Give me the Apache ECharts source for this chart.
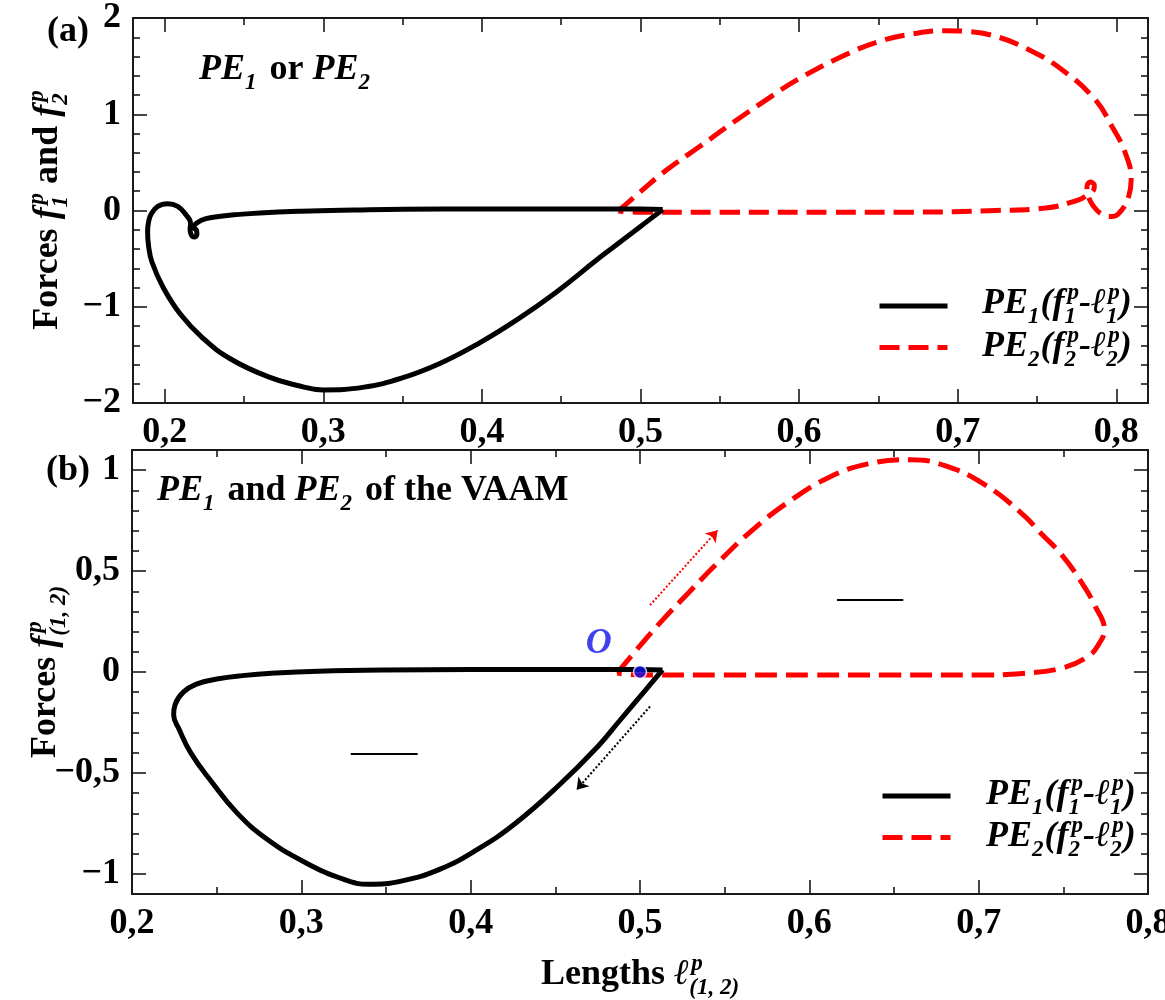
<!DOCTYPE html>
<html>
<head>
<meta charset="utf-8">
<script src="https://cdn.jsdelivr.net/npm/echarts@6/dist/echarts.min.js"></script>
<style>
  html, body { margin: 0; padding: 0; background: #fff; }
  #chart { width: 1165px; height: 1000px; }
</style>
</head>
<body>
<div id="chart"></div>
<script>
// ---- Panel (a): PE1 / PE2 force–length loops ----
const pe1aLen = [0.514, 0.500, 0.4826, 0.4725, 0.446, 0.422, 0.398, 0.3738, 0.3497, 0.3257, 0.300, 0.283, 0.2655, 0.2416, 0.2240, 0.2098, 0.1992, 0.1920, 0.1898, 0.1892, 0.1898, 0.1914, 0.1956, 0.2019, 0.2082, 0.2134, 0.2163, 0.2160, 0.2168, 0.2186, 0.2203, 0.2200, 0.2182, 0.2207, 0.2260, 0.2340, 0.2438, 0.2600, 0.2857, 0.3200, 0.3500, 0.4000, 0.4500, 0.5000, 0.5140];
const pe1aForce = [0.010, -0.166, -0.385, -0.512, -0.859, -1.136, -1.380, -1.587, -1.740, -1.835, -1.864, -1.815, -1.729, -1.543, -1.325, -1.075, -0.805, -0.538, -0.367, -0.221, -0.120, -0.040, 0.042, 0.070, 0.042, -0.045, -0.130, -0.200, -0.255, -0.275, -0.250, -0.205, -0.175, -0.125, -0.085, -0.062, -0.045, -0.025, -0.008, 0.005, 0.013, 0.015, 0.015, 0.015, 0.010];
const pe2aLen = [0.4860, 0.4996, 0.5164, 0.5373, 0.5580, 0.5793, 0.6000, 0.6296, 0.6505, 0.6714, 0.6925, 0.7050, 0.7239, 0.7449, 0.7658, 0.7868, 0.7973, 0.8057, 0.8094, 0.8078, 0.8035, 0.7973, 0.7910, 0.7850, 0.7822, 0.7815, 0.7835, 0.7862, 0.7855, 0.7815, 0.7763, 0.7553, 0.7239, 0.6713, 0.6200, 0.5600, 0.5000, 0.4860];
const pe2aForce = [-0.005, 0.190, 0.420, 0.665, 0.910, 1.150, 1.370, 1.620, 1.757, 1.834, 1.868, 1.861, 1.810, 1.670, 1.463, 1.150, 0.873, 0.597, 0.319, 0.146, 0.007, -0.062, -0.040, 0.060, 0.160, 0.245, 0.295, 0.260, 0.205, 0.160, 0.111, 0.025, 0.000, -0.017, -0.017, -0.017, -0.017, -0.005];

// ---- Panel (b): PE1 and PE2 of the VAAM ----
const pe1bLen = [0.5133, 0.5035, 0.4877, 0.4751, 0.4523, 0.4267, 0.4040, 0.3816, 0.3590, 0.3398, 0.3251, 0.3025, 0.2800, 0.2620, 0.2461, 0.2348, 0.2280, 0.2246, 0.2255, 0.2303, 0.2380, 0.2500, 0.2650, 0.2850, 0.3100, 0.3500, 0.4000, 0.4500, 0.5000, 0.5133];
const pe1bForce = [0.010, -0.087, -0.244, -0.369, -0.560, -0.748, -0.879, -0.978, -1.036, -1.052, -1.028, -0.945, -0.830, -0.698, -0.534, -0.402, -0.287, -0.212, -0.160, -0.100, -0.060, -0.035, -0.018, -0.005, 0.004, 0.010, 0.012, 0.012, 0.012, 0.010];
const pe2bLen = [0.4865, 0.4979, 0.5133, 0.5290, 0.5434, 0.5662, 0.5890, 0.6118, 0.6346, 0.6596, 0.6800, 0.7029, 0.7257, 0.7370, 0.7485, 0.7599, 0.7690, 0.7742, 0.7712, 0.7645, 0.7485, 0.7257, 0.7000, 0.6500, 0.6000, 0.5500, 0.5000, 0.4865];
const pe2bForce = [-0.005, 0.109, 0.257, 0.395, 0.520, 0.702, 0.850, 0.965, 1.031, 1.052, 1.023, 0.932, 0.784, 0.685, 0.586, 0.455, 0.323, 0.208, 0.142, 0.076, 0.018, -0.007, -0.015, -0.015, -0.015, -0.015, -0.015, -0.005];

// Operating point O and direction arrows in panel (b)
const originPoint = [0.5, 0];
const arrowPE2 = [[0.5059, 0.331], [0.5458, 0.702]];
const arrowPE1 = [[0.5059, -0.171], [0.4626, -0.583]];
const markPE1 = [[0.3292, -0.405], [0.3687, -0.405]];
const markPE2 = [[0.6163, 0.356], [0.6555, 0.356]];

// Tick values
const lenTicks = [0.2, 0.3, 0.4, 0.5, 0.6, 0.7, 0.8];
const lenMinor = [0.25, 0.35, 0.45, 0.55, 0.65, 0.75];
const forceTicksA = [-2, -1, 0, 1, 2];
const forceMinorA = [-1.8, -1.6, -1.4, -1.2, -0.8, -0.6, -0.4, -0.2, 0.2, 0.4, 0.6, 0.8, 1.2, 1.4, 1.6, 1.8];
const forceTicksB = [-1, -0.5, 0, 0.5, 1];
const forceMinorB = [-0.9, -0.8, -0.7, -0.6, -0.4, -0.3, -0.2, -0.1, 0.1, 0.2, 0.3, 0.4, 0.6, 0.7, 0.8, 0.9];

const FAMILY = '"Liberation Serif", "Times New Roman", "DejaVu Serif", serif';
const AX = '#1a1a1a';

const zip = (xs, ys) => xs.map((x, i) => [x, ys[i]]);
const fmt = v => String(Math.round(v * 100) / 100).replace('.', ',').replace('-', '\u2212');

// ---- axes: a labelled major axis and an unlabelled minor-tick axis on each side ----
function axisSet(kind, gridIndex, min, max, major, minor) {
  const sides = kind === 'x' ? ['bottom', 'top'] : ['left', 'right'];
  const out = [];
  sides.forEach((pos, si) => {
    [major, minor].forEach((vals, mi) => {
      out.push({
        type: 'value', gridIndex, min, max, position: pos,
        splitLine: { show: false },
        axisLine: { show: mi === 0, onZero: false, lineStyle: { color: AX, width: 2 } },
        axisTick: { show: true, inside: true, length: mi === 0 ? 14 : 7, customValues: vals,
          lineStyle: { color: AX, width: 1.6 } },
        axisLabel: { show: si === 0 && mi === 0, customValues: vals, formatter: fmt,
          margin: 12, color: '#000', fontFamily: FAMILY, fontWeight: 'bold', fontSize: 36 }
      });
    });
  });
  return out;
}

// ---- mixed-style text (italic symbols, stacked super/subscripts) ----
const mctx = document.createElement('canvas').getContext('2d');
const fontOf = (size, it) => (it ? 'italic ' : '') + 'bold ' + size + 'px ' + FAMILY;
const widthOf = (t, size, it) => { mctx.font = fontOf(size, it); return mctx.measureText(t).width; };

function richText(segs, size, color, x, y, opts) {
  opts = opts || {};
  const s = Math.round(size * 0.64);
  const base = 0.34 * size;
  const supMid = base - 0.42 * size - 0.34 * s;
  const subMid = base + 0.24 * size - 0.34 * s;
  const pieces = [];
  let cur = 0;
  segs.forEach(g => {
    if (g.t !== undefined) {
      pieces.push({ t: g.t, x: cur, y: 0, size, it: !!g.i });
      cur += widthOf(g.t, size, !!g.i);
    } else {
      let w = 0;
      const k = g.k || 0;
      if (g.sup) { pieces.push({ t: g.sup, x: cur + k, y: supMid, size: s, it: true }); w = Math.max(w, k + widthOf(g.sup, s, true)); }
      if (g.sub) { pieces.push({ t: g.sub, x: cur, y: subMid, size: s, it: true }); w = Math.max(w, widthOf(g.sub, s, true)); }
      cur += w + (g.after || 0);
    }
  });
  const off = opts.center ? -cur / 2 : 0;
  return {
    type: 'group', x, y, rotation: opts.rotation || 0, silent: true, z: 100,
    children: pieces.map(p => ({
      type: 'text', x: p.x + off, y: p.y,
      style: { text: p.t, font: fontOf(p.size, p.it), fill: color,
        align: 'left', verticalAlign: 'middle', textAlign: 'left', textVerticalAlign: 'middle' }
    }))
  };
}

const legendPE1 = [{ t: 'PE', i: true }, { sub: '1', after: 1 }, { t: '(f', i: true }, { sup: 'p', sub: '1', k: 3 }, { t: '-\u2113', i: true }, { sup: 'p', sub: '1', k: 2 }, { t: ')', i: true }];
const legendPE2 = [{ t: 'PE', i: true }, { sub: '2', after: 1 }, { t: '(f', i: true }, { sup: 'p', sub: '2', k: 3 }, { t: '-\u2113', i: true }, { sup: 'p', sub: '2', k: 2 }, { t: ')', i: true }];

const texts = [
  richText([{ t: '(a)' }], 36, '#000', 47, 32),
  richText([{ t: '(b)' }], 36, '#000', 46, 471),
  richText([{ t: 'PE', i: true }, { sub: '1', after: 4 }, { t: ' or ' }, { t: 'PE', i: true }, { sub: '2' }], 36, '#000', 199, 70),
  richText([{ t: 'PE', i: true }, { sub: '1', after: 4 }, { t: ' and ' }, { t: 'PE', i: true }, { sub: '2', after: 4 }, { t: ' of the VAAM' }], 36, '#000', 157, 491),
  richText([{ t: 'Forces ' }, { t: 'f', i: true }, { sup: 'p', sub: '1', k: 3 }, { t: ' and ' }, { t: 'f', i: true }, { sup: 'p', sub: '2', k: 3 }], 36, '#000', 48, 210, { center: true, rotation: Math.PI / 2 }),
  richText([{ t: 'Forces ' }, { t: 'f', i: true }, { sup: 'p', sub: '(1, 2)', k: 3 }], 36, '#000', 46, 672, { center: true, rotation: Math.PI / 2 }),
  richText([{ t: 'Lengths ' }, { t: '\u2113', i: true }, { sup: 'p', sub: '(1, 2)', k: 2 }], 36, '#000', 640, 975, { center: true }),
  richText(legendPE1, 36, '#000', 982, 304),
  richText(legendPE2, 36, '#000', 982, 347),
  richText(legendPE1, 36, '#000', 986, 795),
  richText(legendPE2, 36, '#000', 986, 837)
];

const blackLine = { color: '#000', width: 5 };
const lineBase = { type: 'line', showSymbol: false, symbol: 'none', smooth: 0.45, animation: false, silent: true };
const legendBase = {
  data: ['PE1', 'PE2'], orient: 'vertical', itemWidth: 68, itemHeight: 14, itemGap: 29,
  formatter: () => '', selectedMode: false, textStyle: { fontSize: 1 },
  itemStyle: { opacity: 0 }, lineStyle: { width: 5 }
};

const option = {
  animation: false,
  backgroundColor: '#fff',
  grid: [
    { left: 133, top: 18, width: 1015, height: 385, containLabel: false, outerBoundsMode: 'none' },
    { left: 132, top: 450, width: 1016, height: 444, containLabel: false, outerBoundsMode: 'none' }
  ],
  xAxis: [
    ...axisSet('x', 0, 0.18, 0.82, lenTicks, lenMinor),
    ...axisSet('x', 1, 0.2, 0.8, lenTicks, lenMinor)
  ],
  yAxis: [
    ...axisSet('y', 0, -2, 2, forceTicksA, forceMinorA),
    ...axisSet('y', 1, -1.1, 1.1, forceTicksB, forceMinorB)
  ],
  legend: [
    { ...legendBase, left: 872, top: 294 },
    { ...legendBase, left: 875, top: 784 }
  ],
  graphic: { elements: texts },
  series: [
    { ...lineBase, name: 'PE2', xAxisIndex: 0, yAxisIndex: 0, data: zip(pe2aLen, pe2aForce),
      lineStyle: { color: '#ff0000', width: 5, type: [20, 9] }, itemStyle: { color: '#ff0000' } },
    { ...lineBase, name: 'PE1', xAxisIndex: 0, yAxisIndex: 0, data: zip(pe1aLen, pe1aForce),
      lineStyle: blackLine, itemStyle: { color: '#000' } },
    { ...lineBase, name: 'PE2', xAxisIndex: 4, yAxisIndex: 4, data: zip(pe2bLen, pe2bForce),
      lineStyle: { color: '#ff0000', width: 5, type: [22, 9] }, itemStyle: { color: '#ff0000' } },
    { ...lineBase, name: 'PE1', xAxisIndex: 4, yAxisIndex: 4, data: zip(pe1bLen, pe1bForce),
      lineStyle: blackLine, itemStyle: { color: '#000' } },
    { type: 'lines', name: 'dir', coordinateSystem: 'cartesian2d', xAxisIndex: 4, yAxisIndex: 4, silent: true,
      symbol: ['none', 'arrow'], symbolSize: 11,
      data: [
        { coords: arrowPE2, lineStyle: { color: '#ff0000' } },
        { coords: arrowPE1, lineStyle: { color: '#000' } }
      ],
      lineStyle: { width: 2, type: 'dotted', opacity: 1 } },
    { type: 'lines', name: 'mark', coordinateSystem: 'cartesian2d', xAxisIndex: 4, yAxisIndex: 4, silent: true,
      symbol: ['none', 'none'],
      data: [{ coords: markPE1 }, { coords: markPE2 }],
      lineStyle: { width: 2, color: '#000', type: 'solid', opacity: 1 } },
    { type: 'scatter', name: 'O', xAxisIndex: 4, yAxisIndex: 4, silent: true, z: 5,
      data: [originPoint], symbolSize: 13,
      itemStyle: { color: '#1010e8', borderColor: '#fff', borderWidth: 1.5 },
      label: { show: true, formatter: 'O', position: [-34, -21], align: 'center', verticalAlign: 'middle',
        color: '#1010e8', fontFamily: FAMILY, fontStyle: 'italic', fontWeight: 'bold', fontSize: 36 } }
  ]
};

const chart = echarts.init(document.getElementById('chart'), null, { renderer: 'canvas' });
chart.setOption(option);
</script>
</body>
</html>
